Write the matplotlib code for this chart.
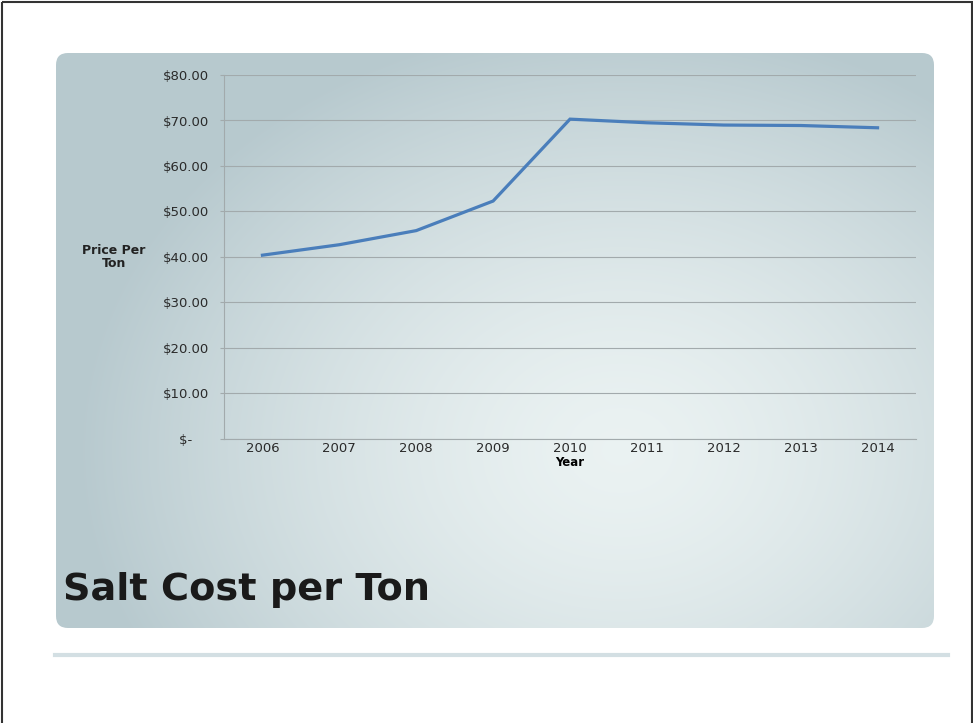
import numpy as np
import matplotlib.pyplot as plt
from matplotlib.patches import FancyBboxPatch, Rectangle

years = ["2006", "2007", "2008", "2009", "2010", "2011", "2012", "2013", "2014"]
price = [40.4, 42.7, 45.8, 52.3, 70.3, 69.5, 69.0, 68.9, 68.4]
y_ticks = [0, 10, 20, 30, 40, 50, 60, 70, 80]
y_labels = ["$-\u2007\u2007", "$10.00", "$20.00", "$30.00", "$40.00", "$50.00", "$60.00", "$70.00", "$80.00"]

W, H = 973, 723
fig = plt.figure(figsize=(W / 100, H / 100), dpi=100)
fig.patch.set_facecolor("white")

# slide background panel (pixel coordinates)
bg = fig.add_axes([0, 0, 1, 1])
bg.set_xlim(0, W)
bg.set_ylim(H, 0)
bg.axis("off")

yy, xx = np.mgrid[0:H, 0:W]
d = np.sqrt(((xx - 620) / 540.0) ** 2 + ((yy - 450) / 430.0) ** 2)
d = np.clip(d, 0, 1)
light = np.array([0.92, 0.95, 0.95])
dark = np.array([0.72, 0.79, 0.81])
img = light + (dark - light) * d[..., None] ** 1.5
im = bg.imshow(img, extent=(0, W, H, 0), zorder=0)
panel = FancyBboxPatch((56, 53), 878, 575, boxstyle="round,pad=0,rounding_size=12",
                       transform=bg.transData, facecolor="none", edgecolor="none")
bg.add_patch(panel)
im.set_clip_path(panel)

# separator line and scan border
bg.plot([55, 948], [655, 655], color="#d3dfe3", lw=3, zorder=1)
bg.add_patch(Rectangle((1.5, 1.5), W - 3, H + 5, fill=False, edgecolor="#333333", lw=1.5))

bg.text(63, 600, "Salt Cost per Ton", fontsize=27.5, fontweight="bold",
        color="#1a1a1a", va="baseline", ha="left")

# chart area
left, right, top, bottom = 224, 916, 75, 439
ax = fig.add_axes([left / W, 1 - bottom / H, (right - left) / W, (bottom - top) / H])
ax.patch.set_alpha(0)
x = np.arange(len(years))
ax.plot(x, price, color="#4a7ebb", lw=2.3, solid_joinstyle="miter")

ax.set_xlim(-0.5, len(years) - 0.5)
ax.set_ylim(0, 80)
ax.set_yticks(y_ticks)
ax.set_yticklabels(y_labels, fontsize=9.5, color="#2a2a2a")
ax.set_xticks(x)
ax.set_xticklabels(years, fontsize=9.5, color="#2a2a2a")
ax.grid(axis="y", color="#a2aaac", lw=0.8)
ax.set_axisbelow(True)
for s in ["top", "right"]:
    ax.spines[s].set_visible(False)
ax.spines["left"].set_color("#a2aaac")
ax.spines["bottom"].set_color("#a2aaac")
ax.tick_params(axis="y", length=3, color="#a2aaac", pad=8)
ax.tick_params(axis="x", length=0, pad=2)
for lab in ax.get_yticklabels():
    lab.set_horizontalalignment("right")

ax.set_xlabel("Year", fontsize=8.5, fontweight="bold", labelpad=1)
fig.text(114 / W, 1 - 257 / H, "Price Per\nTon", fontsize=9, fontweight="bold",
         ha="center", va="center", color="#222222", linespacing=1.0)

fig.savefig("out.png", dpi=100)
